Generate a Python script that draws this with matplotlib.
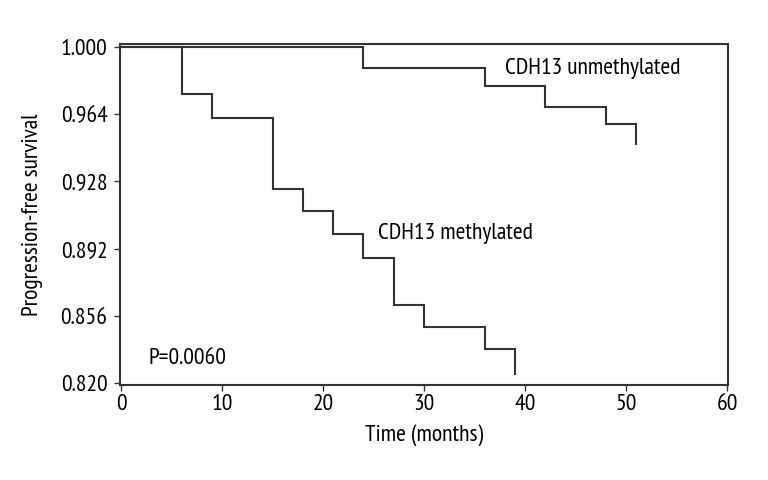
import matplotlib.pyplot as plt

# ---------- DATA ----------
# step times (months) and survival after each step
meth_times = [0, 6, 9, 15, 18, 21, 24, 27, 30, 36, 39]
meth_surv = [1.000, 0.975, 0.962, 0.924, 0.912, 0.900, 0.887, 0.862, 0.850, 0.838, 0.825]

unmeth_times = [0, 24, 36, 42, 48, 51]
unmeth_surv = [1.000, 0.989, 0.979, 0.968, 0.9585, 0.948]

x_ticks = [0, 10, 20, 30, 40, 50, 60]
y_ticks = [0.820, 0.856, 0.892, 0.928, 0.964, 1.000]
# --------------------------

plt.rcParams["font.family"] = ["PT Sans Narrow", "Fira Sans Condensed", "DejaVu Sans"]

ink = "#333333"
txt = "#000000"
fs = 17

fig = plt.figure(figsize=(7.68, 4.8), dpi=100)
ax = fig.add_axes([120 / 768, 95 / 480, 608 / 768, 341 / 480])


def km_steps(times, surv):
    xs, ys = [times[0]], [surv[0]]
    for t, s in zip(times[1:], surv[1:]):
        xs += [t, t]
        ys += [ys[-1], s]
    return xs, ys


mx, my = km_steps(meth_times, meth_surv)
ux, uy = km_steps(unmeth_times, unmeth_surv)
ax.plot(mx, my, color=ink, lw=1.5, solid_joinstyle="miter")
ax.plot(ux, uy, color=ink, lw=1.5, solid_joinstyle="miter")

ax.text(38.0, 0.9887, "CDH13 unmethylated", fontsize=fs, va="center", ha="left", color=txt)
ax.text(25.4, 0.900, "CDH13 methylated", fontsize=fs, va="center", ha="left", color=txt)
ax.text(2.7, 0.833, "P=0.0060", fontsize=fs, va="center", ha="left", color=txt)

ax.set_xlim(-0.1, 60.1)
ax.set_ylim(0.8189, 1.0016)
ax.set_xticks(x_ticks)
ax.set_yticks(y_ticks)
ax.set_yticklabels([f"{v:.3f}" for v in y_ticks])
ax.tick_params(direction="out", length=4, width=1, color=ink, labelsize=fs, labelcolor=txt)
ax.tick_params(axis="y", pad=5)
ax.tick_params(axis="x", pad=2.5)

for sp in ax.spines.values():
    sp.set_color(ink)
    sp.set_linewidth(1.5)

ax.set_xlabel("Time (months)", fontsize=fs, color=txt)
ax.xaxis.set_label_coords(0.5, -0.115)
ax.set_ylabel("Progression-free survival", fontsize=fs, color=txt)
ax.yaxis.set_label_coords(-0.127, 0.5)

fig.savefig("out.png", dpi=100)
